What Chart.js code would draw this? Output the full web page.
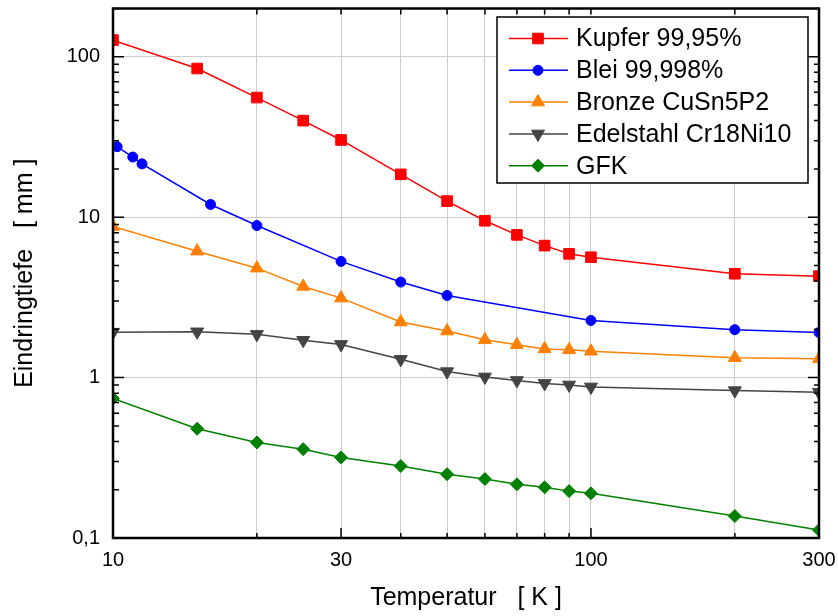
<!DOCTYPE html>
<html>
<head>
<meta charset="utf-8">
<script src="https://cdn.jsdelivr.net/npm/chart.js@4/dist/chart.umd.min.js"></script>
<style>
  body { margin: 0; background: #fff; }
  #wrap { width: 838px; height: 616px; }
</style>
</head>
<body>
<div id="wrap"><canvas id="chart" width="838" height="616"></canvas></div>
<script>
// Temperatur [K]
const temps = [10, 15, 20, 25, 30, 40, 50, 60, 70, 80, 90, 100, 200, 300];
const bleiTemps = [10.2, 11, 11.5, 16, 20, 30, 40, 50, 100, 200, 300];

// Eindringtiefe [mm]
const kupfer = [127, 84.5, 55.7, 40, 30.3, 18.5, 12.6, 9.5, 7.76, 6.65, 5.91, 5.63, 4.44, 4.29];
const blei = [27.5, 23.7, 21.5, 12.0, 8.87, 5.3, 3.94, 3.25, 2.27, 1.99, 1.91];
const bronze = [8.74, 6.14, 4.81, 3.70, 3.13, 2.22, 1.95, 1.72, 1.60, 1.51, 1.49, 1.46, 1.33, 1.31];
const edelstahl = [1.92, 1.93, 1.86, 1.71, 1.61, 1.30, 1.09, 1.01, 0.96, 0.92, 0.90, 0.875, 0.83, 0.81];
const gfk = [0.74, 0.48, 0.394, 0.358, 0.318, 0.281, 0.250, 0.233, 0.216, 0.207, 0.196, 0.190, 0.137, 0.112];

// axis ticks
const xLabelTicks = [10, 30, 100, 300];
const xGridTicks = [10, 20, 30, 40, 50, 60, 70, 80, 90, 100, 200, 300];
const yTicks = [0.1, 1, 10, 100];
const yTickLabels = ['0,1', '1', '10', '100'];

const FONT = "'Liberation Sans', Arial, sans-serif";

function pts(xs, ys) {
  return xs.map((x, i) => ({ x: x, y: ys[i] }));
}

function series(label, xs, ys, color, style, radius, rotation) {
  return {
    label: label,
    data: pts(xs, ys),
    borderColor: color,
    backgroundColor: color,
    pointBackgroundColor: color,
    pointBorderColor: color,
    borderWidth: 1.5,
    pointBorderWidth: 1,
    pointStyle: style,
    pointRadius: radius,
    pointRotation: rotation || 0,
    tension: 0
  };
}

// frame with inward ticks, drawn over the data like the original
const framePlugin = {
  id: 'frame',
  afterDatasetsDraw(chart) {
    const { ctx, chartArea: a, scales } = chart;
    const xs = scales.x, ys = scales.y;
    ctx.save();
    ctx.strokeStyle = '#000';
    ctx.lineWidth = 1.5;
    ctx.beginPath();
    xGridTicks.forEach(v => {
      const px = xs.getPixelForValue(v);
      const major = xLabelTicks.includes(v);
      ctx.moveTo(px, a.bottom);
      ctx.lineTo(px, a.bottom - (major ? 10 : 5));
      ctx.moveTo(px, a.top);
      ctx.lineTo(px, a.top + 6);
    });
    const yMinor = [];
    yTicks.forEach(d => {
      for (let k = 2; k <= 9; k++) if (d * k <= 200) yMinor.push(d * k);
    });
    yTicks.concat(yMinor).forEach(v => {
      const py = ys.getPixelForValue(v);
      const major = yTicks.includes(v);
      ctx.moveTo(a.left, py);
      ctx.lineTo(a.left + (major ? 11 : 6), py);
      ctx.moveTo(a.right, py);
      ctx.lineTo(a.right - (major ? 11 : 5), py);
    });
    ctx.stroke();
    ctx.lineWidth = 2.5;
    ctx.strokeRect(a.left, a.top, a.right - a.left, a.bottom - a.top);
    ctx.restore();
  }
};

// legend: line - marker - line, then the label
const legendPlugin = {
  id: 'boxLegend',
  afterDraw(chart) {
    const ctx = chart.ctx;
    const bx = 497, by = 17, bw = 311, bh = 166;
    ctx.save();
    ctx.fillStyle = '#fff';
    ctx.fillRect(bx, by, bw, bh);
    ctx.strokeStyle = '#000';
    ctx.lineWidth = 1.5;
    ctx.strokeRect(bx, by, bw, bh);
    chart.data.datasets.forEach((ds, i) => {
      const y = 38.5 + i * 31.8;
      ctx.strokeStyle = ds.borderColor;
      ctx.lineWidth = 1.5;
      ctx.beginPath();
      ctx.moveTo(509, y);
      ctx.lineTo(568, y);
      ctx.stroke();
      ctx.fillStyle = ds.pointBackgroundColor;
      ctx.strokeStyle = ds.pointBorderColor;
      ctx.lineWidth = 1;
      Chart.helpers.drawPoint(ctx, {
        pointStyle: ds.pointStyle,
        radius: ds.pointRadius,
        rotation: ds.pointRotation,
        borderWidth: 1
      }, 538, y);
      ctx.fillStyle = '#000';
      ctx.font = '25px ' + FONT;
      ctx.textBaseline = 'middle';
      ctx.textAlign = 'left';
      ctx.fillText(ds.label, 576, y + 1);
    });
    ctx.restore();
  }
};

new Chart(document.getElementById('chart'), {
  type: 'line',
  data: {
    datasets: [
      series('Kupfer 99,95%', temps, kupfer, '#ff0000', 'rect', 7.5),
      series('Blei 99,998%', bleiTemps, blei, '#0000ff', 'circle', 5),
      series('Bronze CuSn5P2', temps, bronze, '#ff8000', 'triangle', 7.5),
      series('Edelstahl Cr18Ni10', temps, edelstahl, '#444444', 'triangle', 7.5, 180),
      series('GFK', temps, gfk, '#008000', 'rectRot', 6.5)
    ]
  },
  options: {
    responsive: false,
    animation: false,
    layout: { padding: { left: 0, top: 8, right: 19, bottom: 0 } },
    plugins: {
      legend: { display: false },
      tooltip: { enabled: false }
    },
    scales: {
      x: {
        type: 'logarithmic',
        min: 10,
        max: 300,
        afterBuildTicks: s => { s.ticks = xGridTicks.map(v => ({ value: v })); },
        afterFit: s => { s.height = 78; s.paddingLeft = 0; s.paddingRight = 0; },
        grid: { color: '#cccccc', lineWidth: 1, drawTicks: false },
        border: { display: false },
        ticks: {
          autoSkip: false,
          maxRotation: 0,
          padding: 10,
          color: '#000',
          font: { family: FONT, size: 20 },
          callback: v => xLabelTicks.includes(v) ? String(v) : ''
        },
        title: {
          display: true,
          text: 'Temperatur   [ K ]',
          color: '#000',
          font: { family: FONT, size: 25 },
          padding: { top: 0, bottom: 3 }
        }
      },
      y: {
        type: 'logarithmic',
        min: 0.1,
        max: 200,
        afterBuildTicks: s => { s.ticks = yTicks.map(v => ({ value: v })); },
        afterFit: s => { s.width = 113; s.paddingTop = 0; s.paddingBottom = 0; },
        grid: { color: '#cccccc', lineWidth: 1, drawTicks: false },
        border: { display: false },
        ticks: {
          autoSkip: false,
          padding: 13,
          color: '#000',
          font: { family: FONT, size: 20 },
          callback: v => {
            const i = yTicks.findIndex(t => Math.abs(t - v) < t * 1e-6);
            return i >= 0 ? yTickLabels[i] : '';
          }
        },
        title: {
          display: true,
          text: 'Eindringtiefe   [ mm ]',
          color: '#000',
          font: { family: FONT, size: 25 },
          padding: { top: 10, bottom: 0 }
        }
      }
    }
  },
  plugins: [framePlugin, legendPlugin]
});
</script>
</body>
</html>
